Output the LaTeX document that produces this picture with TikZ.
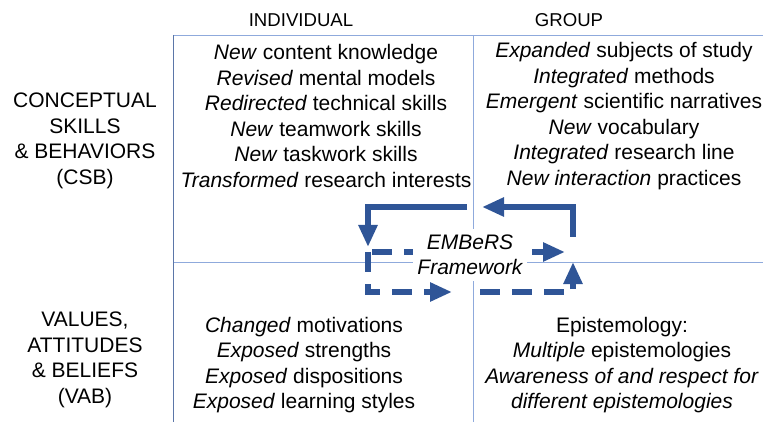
\documentclass[tikz,border=0pt]{standalone}
\usepackage{fontspec}
\setmainfont{Liberation Sans}
\usetikzlibrary{arrows.meta}
\definecolor{gridblue}{HTML}{8FAADC}
\definecolor{edgeblue}{HTML}{5B76A8}
\definecolor{loopblue}{HTML}{2F5597}
\tikzset{
  cell/.style={align=center, font=\fontsize{21}{25.5}\selectfont, inner sep=0pt},
  head/.style={cell, font=\fontsize{18.6}{22}\selectfont},
  loopline/.style={line width=6pt, draw=loopblue, -{Triangle[length=22pt,width=18pt]}},
  loopdash/.style={loopline, dash pattern=on 20pt off 12pt},
}
\begin{document}
\begin{tikzpicture}[x=1pt,y=-1pt]
        \useasboundingbox (0,0) rectangle (763,422);

        % Grid
        \draw[gridblue] (173,35) -- (763,35);
        \draw[gridblue] (173,262) -- (763,262);
        \draw[gridblue] (473,35) -- (473,422);
        \draw[edgeblue, thick] (173,35) -- (173,422);

        % Headers
        \node[head] (indiv) at (301,20) {INDIVIDUAL};
        \node[head] (group) at (569,20) {GROUP};
        \node[cell] (csb) at (85,141) {CONCEPTUAL\\SKILLS\\\& BEHAVIORS\\(CSB)};
        \node[cell] (vab) at (85,360) {VALUES,\\ATTITUDES\\\& BELIEFS\\(VAB)};

        % CSB cells
        \node[cell] (csbind) at (326,116) {\textit{New} content knowledge\\
            \textit{Revised} mental models\\
            \textit{Redirected} technical skills\\
            \textit{New} teamwork skills\\
            \textit{New} taskwork skills\\
            \textit{Transformed} research interests};
        \node[cell] (csbgrp) at (624,116) {\textit{Expanded} subjects of study\\
            \textit{Integrated} methods\\
            \textit{Emergent} scientific narratives\\
            \textit{New} vocabulary\\
            \textit{Integrated} research line\\
            \textit{New interaction} practices};

        % VAB cells
        \node[cell] (vabind) at (304,365) {\textit{Changed} motivations\\
            \textit{Exposed} strengths\\
            \textit{Exposed} dispositions\\
            \textit{Exposed} learning styles};
        \node[cell] (vabgrp) at (622,365) {Epistemology:\\
            \textit{Multiple} epistemologies\\
            \textit{Awareness of and respect for}\\
            \textit{different epistemologies}};

        % Loop
        \coordinate (ra) at (573,237);
        \coordinate (rb) at (482,207);
        \coordinate (la) at (467,207);
        \coordinate (lb) at (368,247);
        \coordinate (ma) at (372,252);
        \coordinate (mb) at (565,252);
        \coordinate (da) at (368,252);
        \coordinate (db) at (452,292);
        \coordinate (ea) at (480,292);
        \coordinate (eb) at (573,262);
        \draw[loopline] (ra) |- (rb);
        \draw[loopline] (la) -| (lb);
        \draw[loopdash] (ma) -- (mb);
        \draw[loopdash] (da) |- (db);
        \draw[loopdash] (ea) -| (eb);

        \node[cell, fill=white, inner xsep=4pt, inner ysep=6pt, font=\fontsize{21}{25.5}\selectfont\itshape] (embers) at (470,255) {EMBeRS\\Framework};
    \end{tikzpicture}
\end{document}
